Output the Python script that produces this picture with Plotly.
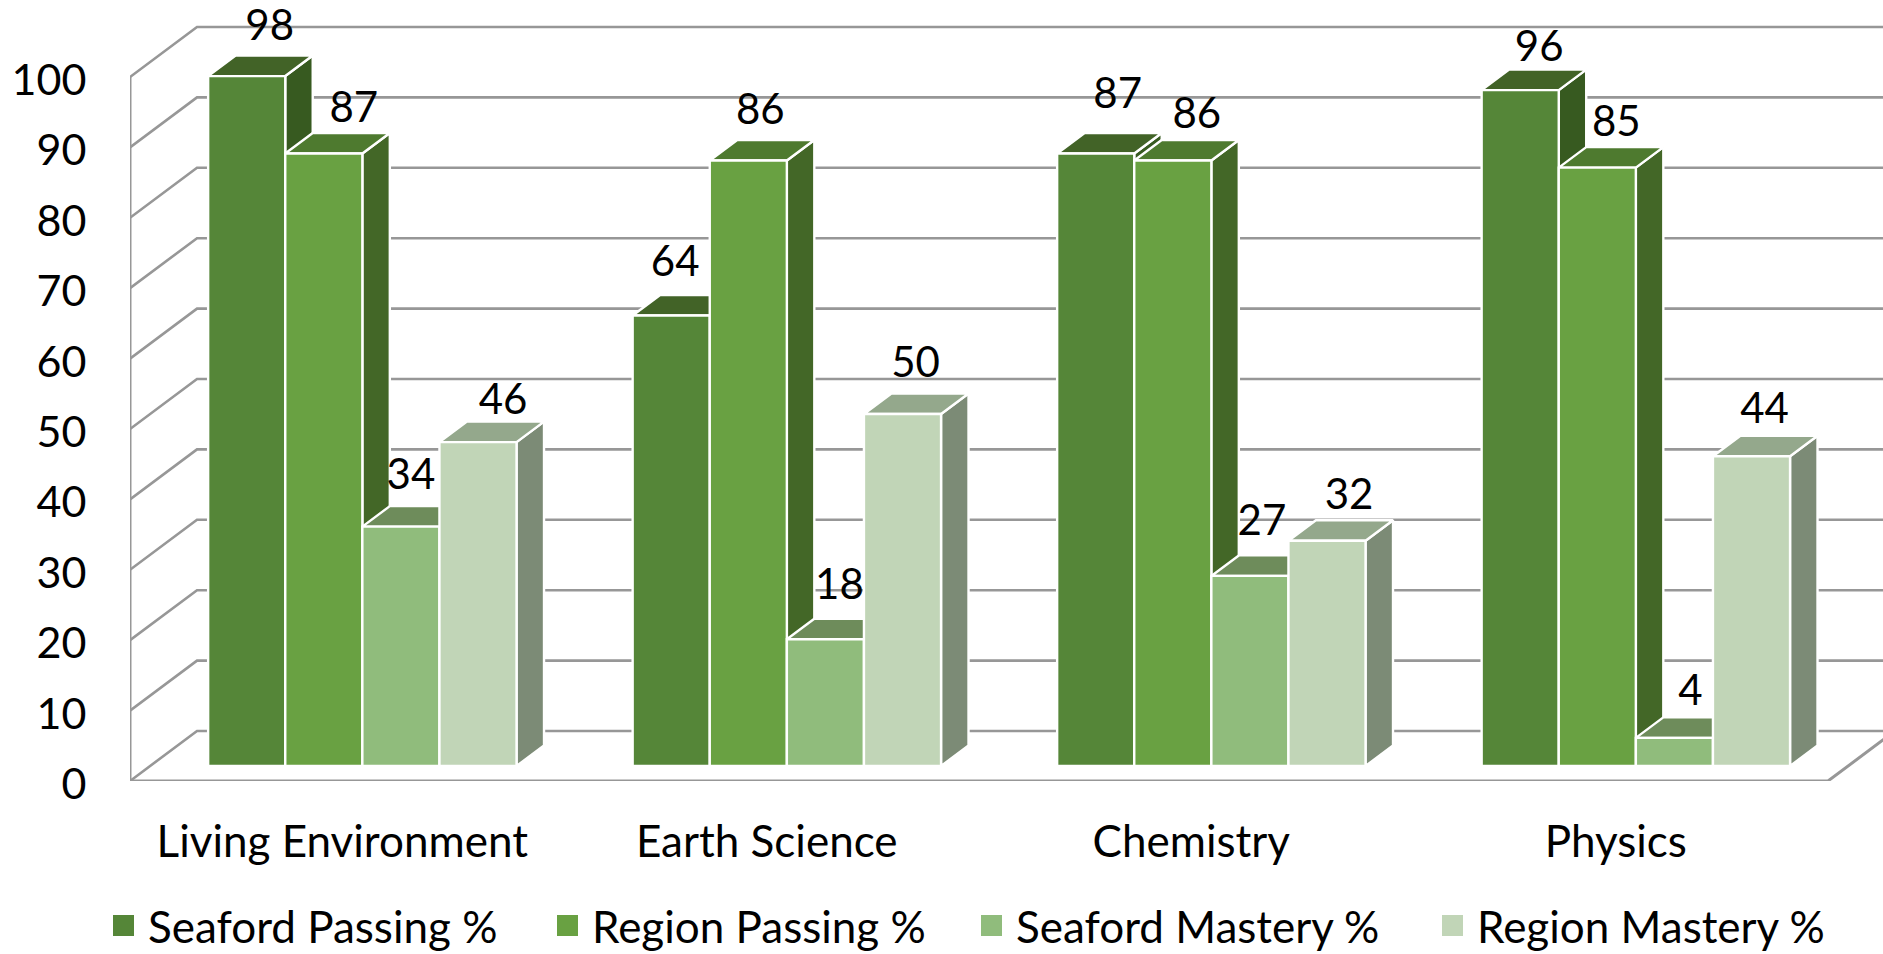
import plotly.graph_objects as go

# Chart data
categories = ["Living Environment", "Earth Science", "Chemistry", "Physics"]
seaford_passing = [98, 64, 87, 96]
region_passing = [87, 86, 86, 85]
seaford_mastery = [34, 18, 27, 4]
region_mastery = [46, 50, 32, 44]
value_ticks = list(range(0, 101, 10))

series_names = ["Seaford Passing %", "Region Passing %", "Seaford Mastery %", "Region Mastery %"]
series_values = [seaford_passing, region_passing, seaford_mastery, region_mastery]

# Face colours per series
front_colors = ["#558638", "#69A142", "#90BC7C", "#C1D5B7"]
top_colors = ["#426327", "#4E7A2F", "#6E8C5B", "#94A88C"]
side_colors = ["#375A20", "#436727", "#5F7A50", "#7C8B76"]
grid_color = "#979797"
FONT = "Lato"

# Page geometry in pixels
W, H = 1883, 954
LEFT, FLOOR_Y = 130, 781
PX_PER_CAT, PX_PER_VAL = 424.5, 7.04

# Oblique projection: depth t in [0, 1] shifts a point right and up
DEPTH_X = 67 / PX_PER_CAT
DEPTH_Y = 50 / PX_PER_VAL
BAR_W = 77.1 / PX_PER_CAT
T_FRONT, T_BACK = 0.30, 0.71


def project(x, v, t):
    return x + t * DEPTH_X, v + t * DEPTH_Y


def polygons(quads):
    xs, ys = [], []
    for quad in quads:
        pts = [project(*p) for p in quad]
        pts.append(pts[0])
        xs += [p[0] for p in pts] + [None]
        ys += [p[1] for p in pts] + [None]
    return xs, ys


def face_trace(quads, fill, name):
    xs, ys = polygons(quads)
    return go.Scatter(
        x=xs, y=ys, mode="lines", fill="toself", fillcolor=fill,
        line=dict(color="white", width=2.4), name=name,
        hoverinfo="skip", showlegend=False,
    )


fig = go.Figure()

# Walls: diagonal and back gridlines, then the front axis and floor edge
first, last = -0.5, len(categories) - 0.5
gx, gy = [], []
for v in value_ticks:
    gx += [project(first, v, 0)[0], project(first, v, 1)[0], project(last, v, 1)[0], None]
    gy += [project(first, v, 0)[1], project(first, v, 1)[1], project(last, v, 1)[1], None]
fig.add_trace(go.Scatter(x=gx, y=gy, mode="lines", line=dict(color=grid_color, width=2.6),
                         hoverinfo="skip", showlegend=False))
fx = [first, first, None, first, last, project(last, 0, 1)[0]]
fy = [value_ticks[-1], 0, None, 0, 0, project(last, 0, 1)[1]]
fig.add_trace(go.Scatter(x=fx, y=fy, mode="lines", line=dict(color=grid_color, width=3),
                         hoverinfo="skip", showlegend=False))

# Bars, left to right so that each one covers its neighbour's side face
for k, values in enumerate(series_values):
    sides, tops, fronts = [], [], []
    for c, val in enumerate(values):
        xl = c + (k - 2) * BAR_W
        xr = xl + BAR_W
        sides.append([(xr, 0, T_FRONT), (xr, 0, T_BACK), (xr, val, T_BACK), (xr, val, T_FRONT)])
        tops.append([(xl, val, T_FRONT), (xr, val, T_FRONT), (xr, val, T_BACK), (xl, val, T_BACK)])
        fronts.append([(xl, 0, T_FRONT), (xr, 0, T_FRONT), (xr, val, T_FRONT), (xl, val, T_FRONT)])
    fig.add_trace(face_trace(sides, side_colors[k], series_names[k]))
    fig.add_trace(face_trace(tops, top_colors[k], series_names[k]))
    fig.add_trace(face_trace(fronts, front_colors[k], series_names[k]))

# Value labels, nudged in pixels from the front top edge of each bar
label_dx = [[23, 4, 22, 19], [30, 12, 24, 19], [10, 14, 12, 16], [25, 13, 22, 13]]
label_up = [[47, 50, 56, 40], [42, 47, 43, 42], [48, 51, 51, 43], [39, 48, 42, 44]]
lx, ly, lt = [], [], []
for k, values in enumerate(series_values):
    for c, val in enumerate(values):
        px_, py_ = project(c + (k - 1.5) * BAR_W, val, T_FRONT)
        lx.append(px_ + label_dx[k][c] / PX_PER_CAT)
        ly.append(py_ + label_up[k][c] / PX_PER_VAL)
        lt.append(str(val))
fig.add_trace(go.Scatter(x=lx, y=ly, text=lt, mode="text", textposition="middle center",
                         textfont=dict(family=FONT, size=42, color="black"),
                         hoverinfo="skip", showlegend=False, cliponaxis=False))

# One legend per series so each entry can sit at its own position
legend_px = [99, 543, 967, 1428]
legends = {}
for k, name in enumerate(series_names):
    key = "legend" if k == 0 else f"legend{k + 1}"
    fig.add_trace(go.Scatter(
        x=[None], y=[None], mode="markers", name=name, legend=key,
        marker=dict(symbol="square", size=16, color=front_colors[k],
                    line=dict(color=front_colors[k], width=5)),
    ))
    legends[key] = dict(
        x=(legend_px[k] - LEFT) / (W - LEFT), xanchor="left",
        y=(FLOOR_Y - 926) / FLOOR_Y, yanchor="middle",
        bgcolor="rgba(0,0,0,0)", borderwidth=0, itemwidth=39,
        font=dict(family=FONT, size=44, color="black"),
        itemclick=False, itemdoubleclick=False,
    )

fig.update_layout(
    width=W, height=H, autosize=False,
    margin=dict(l=LEFT, r=0, t=0, b=H - FLOOR_Y, pad=0, autoexpand=False),
    paper_bgcolor="white", plot_bgcolor="white",
    xaxis=dict(
        range=[first, first + (W - LEFT) / PX_PER_CAT],
        tickmode="array", tickvals=list(range(len(categories))), ticktext=categories,
        showgrid=False, zeroline=False, showline=False,
        ticks="outside", ticklen=22, tickcolor="rgba(0,0,0,0)",
        tickfont=dict(family=FONT, size=44, color="black"), fixedrange=True, automargin=False,
    ),
    yaxis=dict(
        range=[0, FLOOR_Y / PX_PER_VAL],
        tickmode="array", tickvals=value_ticks,
        showgrid=False, zeroline=False, showline=False,
        ticks="outside", ticklen=34, tickcolor="rgba(0,0,0,0)", ticklabelshift=3,
        tickfont=dict(family=FONT, size=43, color="black"), fixedrange=True, automargin=False,
    ),
    **legends,
)

fig.write_html("out.html", config=dict(displayModeBar=False))
